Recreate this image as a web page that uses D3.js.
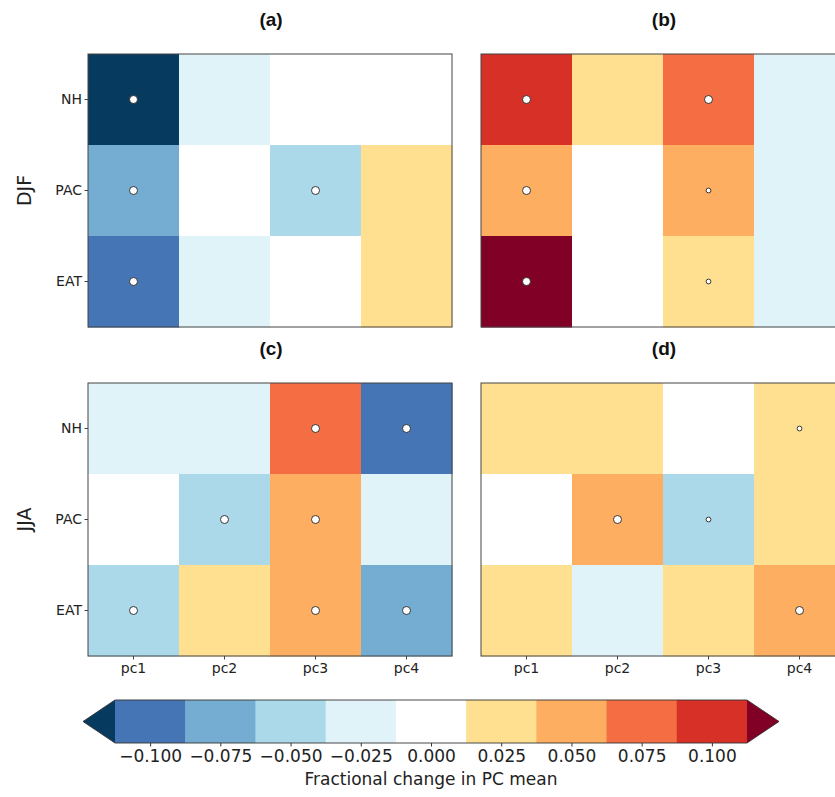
<!DOCTYPE html>
<html>
<head>
<meta charset="utf-8">
<script src="https://cdn.jsdelivr.net/npm/d3@7"></script>
<style>
  html, body { margin: 0; padding: 0; background: #fff; }
  svg { display: block; font-family: "DejaVu Sans", sans-serif; }
</style>
</head>
<body>
<svg id="chart" width="835" height="797"></svg>
<script>
// ---------- data ----------
const pcs = ["pc1", "pc2", "pc3", "pc4"];
const regions = ["NH", "PAC", "EAT"];
const seasons = ["DJF", "JJA"];
const panelTitles = ["(a)", "(b)", "(c)", "(d)"];

// values per panel, rows = regions (NH, PAC, EAT), cols = pc1..pc4
const valuesA = [[-0.13, -0.025, 0.0, 0.0], [-0.075, 0.0, -0.05, 0.025], [-0.1, -0.025, 0.0, 0.025]];
const valuesB = [[0.1, 0.025, 0.075, -0.025], [0.05, 0.0, 0.05, -0.025], [0.13, 0.0, 0.025, -0.025]];
const valuesC = [[-0.025, -0.025, 0.075, -0.1], [0.0, -0.05, 0.05, -0.025], [-0.05, 0.025, 0.05, -0.075]];
const valuesD = [[0.025, 0.025, 0.0, 0.025], [0.0, 0.05, -0.05, 0.025], [0.025, -0.025, 0.025, 0.05]];

// significance markers: 0 none, 1 small, 2 large
const sigA = [[2, 0, 0, 0], [2, 0, 2, 0], [2, 0, 0, 0]];
const sigB = [[2, 0, 2, 0], [2, 0, 1, 0], [2, 0, 1, 0]];
const sigC = [[0, 0, 2, 2], [0, 2, 2, 0], [2, 0, 2, 2]];
const sigD = [[0, 0, 0, 1], [0, 2, 1, 0], [0, 0, 0, 2]];

const cbarTicks = [-0.1, -0.075, -0.05, -0.025, 0.0, 0.025, 0.05, 0.075, 0.1];
const cbarBounds = [-0.1125, -0.0875, -0.0625, -0.0375, -0.0125, 0.0125, 0.0375, 0.0625, 0.0875, 0.1125];
const cbarColors = ["#063a5e", "#4575b4", "#74add1", "#abd9e9", "#e0f3f8", "#ffffff",
                    "#fee090", "#fdae61", "#f46d43", "#d73027", "#800026"];
const cbarLabel = "Fractional change in PC mean";

// ---------- layout ----------
const svg = d3.select("#chart");
const color = d3.scaleThreshold().domain(cbarBounds).range(cbarColors);

const panelW = 364, panelH = 273;
const colX = [88, 481], rowY = [54, 383];
const panels = [
  {vals: valuesA, sig: sigA, c: 0, r: 0},
  {vals: valuesB, sig: sigB, c: 1, r: 0},
  {vals: valuesC, sig: sigC, c: 0, r: 1},
  {vals: valuesD, sig: sigD, c: 1, r: 1}
];
const sizeR = [0, 2.4, 4.0];

panels.forEach((p, i) => {
  const x0 = colX[p.c], y0 = rowY[p.r];
  const x = d3.scaleBand().domain(pcs).range([x0, x0 + panelW]);
  const y = d3.scaleBand().domain(regions).range([y0, y0 + panelH]);
  const g = svg.append("g");
  const cells = [];
  regions.forEach((reg, ri) => pcs.forEach((pc, ci) =>
    cells.push({reg, pc, v: p.vals[ri][ci], s: p.sig[ri][ci]})));

  g.selectAll("rect.cell").data(cells).join("rect")
    .attr("class", "cell")
    .attr("x", d => x(d.pc)).attr("y", d => y(d.reg))
    .attr("width", x.bandwidth() + 0.5).attr("height", y.bandwidth() + 0.5)
    .attr("fill", d => color(d.v));

  g.selectAll("circle").data(cells.filter(d => d.s > 0)).join("circle")
    .attr("cx", d => x(d.pc) + x.bandwidth() / 2)
    .attr("cy", d => y(d.reg) + y.bandwidth() / 2)
    .attr("r", d => sizeR[d.s])
    .attr("fill", "#fff").attr("stroke", "#222").attr("stroke-width", 0.9);

  g.append("rect").attr("x", x0).attr("y", y0).attr("width", panelW).attr("height", panelH)
    .attr("fill", "none").attr("stroke", "#444").attr("stroke-width", 1);

  svg.append("text").attr("x", x0 + panelW / 2 + 1).attr("y", y0 - 28)
    .attr("text-anchor", "middle").attr("font-family", "Liberation Sans, Arial, sans-serif")
    .attr("font-weight", "bold").attr("font-size", 19).attr("fill", "#111")
    .text(panelTitles[i]);

  if (p.c === 0) {
    const ax = svg.append("g").attr("transform", `translate(${x0},0)`)
      .call(d3.axisLeft(y).tickSize(3.5).tickPadding(2.5));
    ax.select(".domain").remove();
    ax.selectAll("text").attr("font-family", "DejaVu Sans").attr("font-size", 14).attr("fill", "#222");
    ax.selectAll("line").attr("stroke", "#444");
    svg.append("text")
      .attr("transform", `translate(${31},${y0 + panelH / 2}) rotate(-90)`)
      .attr("text-anchor", "middle").attr("font-size", 19).attr("fill", "#222")
      .text(seasons[p.r]);
  }
  if (p.r === 1) {
    const ax = svg.append("g").attr("transform", `translate(0,${y0 + panelH})`)
      .call(d3.axisBottom(x).tickSize(3.5).tickPadding(4));
    ax.select(".domain").remove();
    ax.selectAll("text").attr("font-family", "DejaVu Sans").attr("font-size", 14).attr("fill", "#222");
    ax.selectAll("line").attr("stroke", "#444");
  }
});

// ---------- colorbar ----------
const cbY = 700, cbH = 43, ext = 32;
const cx = d3.scaleLinear().domain([cbarBounds[0], cbarBounds[cbarBounds.length - 1]]).range([115, 747]);
const cb = svg.append("g");
const bins = d3.range(cbarBounds.length - 1).map(k => ({a: cbarBounds[k], b: cbarBounds[k + 1], c: cbarColors[k + 1]}));
cb.selectAll("rect").data(bins).join("rect")
  .attr("x", d => cx(d.a)).attr("y", cbY)
  .attr("width", d => cx(d.b) - cx(d.a) + 0.5).attr("height", cbH)
  .attr("fill", d => d.c);
const L = cx(cbarBounds[0]), R = cx(cbarBounds[cbarBounds.length - 1]);
cb.append("path").attr("d", `M${L},${cbY} L${L - ext},${cbY + cbH / 2} L${L},${cbY + cbH} Z`)
  .attr("fill", cbarColors[0]);
cb.append("path").attr("d", `M${R},${cbY} L${R + ext},${cbY + cbH / 2} L${R},${cbY + cbH} Z`)
  .attr("fill", cbarColors[cbarColors.length - 1]);
cb.append("path")
  .attr("d", `M${L},${cbY} L${R},${cbY} L${R + ext},${cbY + cbH / 2} L${R},${cbY + cbH} L${L},${cbY + cbH} L${L - ext},${cbY + cbH / 2} Z`)
  .attr("fill", "none").attr("stroke", "#333").attr("stroke-width", 0.9);

const cax = svg.append("g").attr("transform", `translate(0,${cbY + cbH})`)
  .call(d3.axisBottom(cx).tickValues(cbarTicks).tickFormat(d => d3.format(".3f")(d).replace("-", "\u2212"))
    .tickSize(3.5).tickPadding(3));
cax.select(".domain").remove();
cax.selectAll("text").attr("font-family", "DejaVu Sans").attr("font-size", 17).attr("fill", "#222");
cax.selectAll("line").attr("stroke", "#333");

svg.append("text").attr("x", (L + R) / 2).attr("y", 785)
  .attr("text-anchor", "middle").attr("font-size", 17).attr("fill", "#222")
  .text(cbarLabel);
</script>
</body>
</html>
